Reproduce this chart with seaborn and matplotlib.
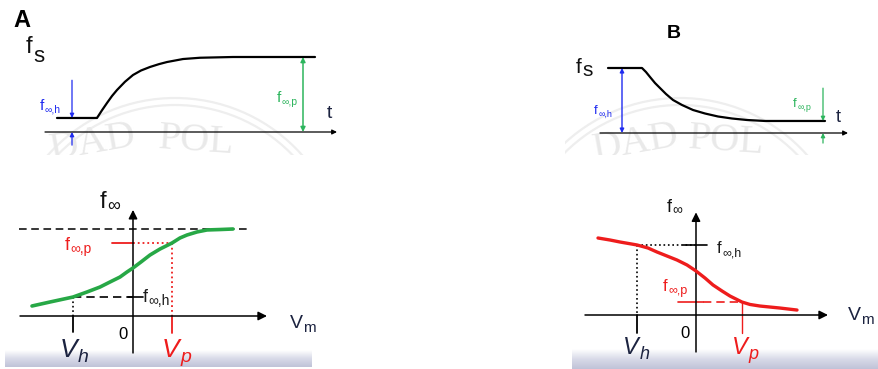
import numpy as np
import matplotlib
matplotlib.use("Agg")
import matplotlib.pyplot as plt
from matplotlib.colors import LinearSegmentedColormap
from matplotlib.patches import Ellipse
import seaborn as sns

sns.set_theme(style="white")
plt.rcParams["font.family"] = ["Liberation Sans", "DejaVu Sans"]

W, H = 879, 369

# ---- data -------------------------------------------------------------
# A (top): f_s after a step, rising from f_inf,h to f_inf,p  (t in ms)
t_rise = [-2.0, 0.0, 0.25, 0.5, 0.75, 1.0, 1.4, 1.8, 2.2, 2.65, 3.1, 3.5,
          4.3, 5.15, 6.8, 10.9]
fs_rise = [0.187, 0.187, 0.29, 0.387, 0.48, 0.56, 0.67, 0.76, 0.82, 0.867,
           0.905, 0.933, 0.973, 0.99, 1.0, 1.0]
fA_h, fA_p = 0.187, 1.0

# B (top): f_s after a step, falling from f_inf,h to f_inf,p
t_fall = [-1.7, 0.0, 0.2, 0.4, 0.65, 0.9, 1.2, 1.55, 2.0, 2.55, 3.15, 3.8,
          4.5, 5.25, 6.15, 9.15]
fs_fall = [1.0, 1.0, 0.938, 0.862, 0.769, 0.692, 0.60, 0.508, 0.431, 0.354,
           0.30, 0.254, 0.223, 0.20, 0.185, 0.185]
fB_h, fB_p = 1.0, 0.185

# A (bottom): steady-state f_inf(Vm), increasing
vA = [-10.1, -8.3, -6.0, -4.6, -3.3, -2.3, -1.3, -0.6, 0.0, 0.8, 1.7, 2.7,
      3.9, 4.7, 5.4, 6.4, 7.4, 8.7, 10.0]
finfA = [0.115, 0.161, 0.218, 0.276, 0.333, 0.391, 0.448, 0.506, 0.552, 0.621,
         0.701, 0.770, 0.839, 0.897, 0.931, 0.966, 0.989, 0.994, 1.0]
VA_h, VA_p = -6.0, 3.9
fA_inf_h, fA_inf_p = 0.218, 0.839

# B (bottom): steady-state f_inf(Vm), decreasing
vB = [-9.8, -8.6, -7.6, -5.9, -4.8, -3.9, -2.9, -1.9, -0.9, 0.0, 0.9, 1.7,
      2.6, 3.4, 4.6, 5.4, 6.4, 8.4, 10.1]
finfB = [0.885, 0.862, 0.839, 0.805, 0.770, 0.724, 0.678, 0.632, 0.575, 0.506,
         0.425, 0.345, 0.276, 0.218, 0.149, 0.121, 0.103, 0.080, 0.057]
VB_h, VB_p = -5.9, 4.6
fB_inf_h, fB_inf_p = 0.805, 0.149

BLUE = "#1f2bf0"
GREEN = "#2db55d"
RED = "#ee1c1c"
NAVY = "#1c2340"

fig = plt.figure(figsize=(W / 100, H / 100), dpi=100)
fig.patch.set_facecolor("white")
renderer = fig.canvas.get_renderer()


def panel(box, origin, unit):
    """Axes placed on a pixel box with a given data origin and pixels per unit."""
    x0, y0, x1, y1 = box
    ox, oy = origin
    ux, uy = unit
    ax = fig.add_axes([x0 / W, 1 - y1 / H, (x1 - x0) / W, (y1 - y0) / H])
    ax.set_xlim((x0 - ox) / ux, (x1 - ox) / ux)
    ax.set_ylim((oy - y1) / uy, (oy - y0) / uy)
    ax.set_axis_off()
    ax.px = lambda px, py: ((px - ox) / ux, (oy - py) / uy)
    ax.units = (ux, uy)
    return ax


def arrow(ax, p0, p1, color, lw=1.0, head=8, both=False):
    ax.annotate("", xy=p1, xytext=p0,
                arrowprops=dict(arrowstyle="<|-|>" if both else "-|>",
                                color=color, lw=lw, mutation_scale=head,
                                shrinkA=0, shrinkB=0))


def label(px, py, s, size, color="black", **kw):
    return fig.text(px / W, 1 - py / H, s, fontsize=size, color=color,
                    va="baseline", ha="left", **kw)


def sublabel(px, py, main, sub, size, color, subsize, drop, gap=0.5, **kw):
    """Main text followed by a lowered, smaller suffix."""
    t = label(px, py, main, size, color, **kw)
    x_end = t.get_window_extent(renderer=renderer).x1
    label(x_end + gap, py + drop, sub, subsize, color, **kw)


def shade(box):
    x0, y0, x1, y1 = box
    sax = fig.add_axes([x0 / W, 1 - y1 / H, (x1 - x0) / W, (y1 - y0) / H], zorder=0)
    cmap = LinearSegmentedColormap.from_list("shade", ["#ffffff", "#d8dae8", "#c0c3d8"])
    grad = np.linspace(0, 1, 64).reshape(-1, 1)
    sax.imshow(grad, aspect="auto", cmap=cmap, extent=(0, 1, 0, 1), origin="upper")
    sax.set_axis_off()


def watermark(ax, cx, cy, words):
    ux, uy = ax.units
    c = ax.px(cx, cy)
    for r in (170, 163):
        ax.add_patch(Ellipse(c, 2 * r / ux, 2 * r / uy, fill=False,
                             ec="#eeeeee", lw=1.6, zorder=0, clip_on=True))
    for (px, py, s, rot) in words:
        x, y = ax.px(px, py)
        ax.text(x, y, s, fontsize=29, color="#e9e9e9", family="Liberation Serif",
                ha="center", va="center", rotation=rot, zorder=0, clip_on=True)


# ---- A, top -------------------------------------------------------------
axA = panel((15, 20, 350, 155), (97, 132), (20, 75))
watermark(axA, 175, 268, [(93, 143, "DAD", 10), (196, 141, "POL", -4)])
arrow(axA, (-2.6, 0), (12.0, 0), "black", lw=0.9, head=7)
sns.lineplot(x=t_rise, y=fs_rise, ax=axA, color="black", lw=1.6, sort=False)
arrow(axA, (-1.25, 0.69), (-1.25, fA_h), BLUE, lw=0.9, head=6)
arrow(axA, (-1.25, -0.175), (-1.25, 0), BLUE, lw=0.9, head=6)
arrow(axA, (10.3, 0), (10.3, fA_p), GREEN, lw=1.1, head=7, both=True)

label(13, 27, "A", 17, weight="bold")
sublabel(26, 53, "f", "s", 17, "#111111", 16, 9, gap=1)
sublabel(40, 110, "f", "∞,h", 11, BLUE, 7.5, 3)
sublabel(277, 102, "f", "∞,p", 11, GREEN, 7.5, 3)
label(327, 118, "t", 14, NAVY)

# ---- B, top -------------------------------------------------------------
axB = panel((565, 20, 875, 155), (642, 133), (20, 65))
watermark(axB, 680, 268, [(636, 143, "DAD", 10), (726, 141, "POL", -4)])
arrow(axB, (-2.1, 0), (10.3, 0), "black", lw=0.9, head=7)
sns.lineplot(x=t_fall, y=fs_fall, ax=axB, color="black", lw=1.6, sort=False)
arrow(axB, (-1.0, 0), (-1.0, fB_h), BLUE, lw=1.0, head=6, both=True)
arrow(axB, (9.05, 0.69), (9.05, fB_p), GREEN, lw=0.9, head=6)
arrow(axB, (9.05, -0.155), (9.05, 0), GREEN, lw=0.9, head=6)

label(667, 38, "B", 14, weight="bold")
sublabel(576, 73, "f", "s", 15, "#111111", 15, 3, gap=1)
sublabel(594, 114, "f", "∞,h", 9.5, BLUE, 6.5, 3)
sublabel(793, 107, "f", "∞,p", 9.5, GREEN, 6.5, 3)
label(836, 122, "t", 13, NAVY)

# ---- A, bottom ----------------------------------------------------------
shade((5, 350, 312, 367))
axC = panel((5, 175, 320, 369), (133, 316), (10, 87))
arrow(axC, (-11.3, 0), (13.4, 0), "black", lw=1.1, head=13)
arrow(axC, (0, -0.425), (0, 1.22), "black", lw=1.1, head=13)
axC.plot([-11.4, 11.5], [1, 1], color="black", lw=1.1, ls=(0, (5, 3)))
# f_inf,p guide lines
axC.plot([-2.1, 0], [fA_inf_p, fA_inf_p], color=RED, lw=1.3)
axC.plot([0, VA_p], [fA_inf_p, fA_inf_p], color=RED, lw=1.3, ls=":")
axC.plot([VA_p, VA_p], [fA_inf_p, 0], color=RED, lw=1.3, ls=":")
axC.plot([VA_p, VA_p], [0, -0.195], color=RED, lw=1.3)
# f_inf,h guide lines
axC.plot([VA_h, VA_h], [fA_inf_h, 0], color="black", lw=1.2, ls=":")
axC.plot([VA_h, 0], [fA_inf_h, fA_inf_h], color="black", lw=1.2, ls=(0, (5, 3)))
axC.plot([-0.5, 1.0], [fA_inf_h, fA_inf_h], color="black", lw=1.2)
axC.plot([VA_h, VA_h], [0, -0.18], color="black", lw=1.3)
sns.lineplot(x=vA, y=finfA, ax=axC, color="#27a846", lw=2.6, sort=False, zorder=3)

sublabel(100, 208, "f", "∞", 17, "#111111", 13, 3)
sublabel(65, 250, "f", "∞,p", 13, RED, 10, 3)
sublabel(143, 302, "f", "∞,h", 13, "#1a1a1a", 10, 3)
label(118, 339, "0", 12)
sublabel(60, 357, "V", "h", 19, NAVY, 14, 5, style="italic")
sublabel(162, 357, "V", "p", 19, RED, 14, 5, style="italic")
sublabel(290, 328, "V", "m", 14, NAVY, 11, 4)

# ---- B, bottom ----------------------------------------------------------
shade((572, 349, 879, 369))
axD = panel((570, 175, 879, 369), (696, 315), (10, 87))
arrow(axD, (-11.1, 0), (13.2, 0), "black", lw=1.1, head=13)
arrow(axD, (0, -0.425), (0, 1.18), "black", lw=1.1, head=13)
# f_inf,h guide lines
axD.plot([VB_h, VB_h], [fB_inf_h, 0], color="black", lw=1.2, ls=":")
axD.plot([VB_h, 0], [fB_inf_h, fB_inf_h], color="black", lw=1.2, ls=":")
axD.plot([-1.3, 1.1], [fB_inf_h, fB_inf_h], color="black", lw=1.2)
axD.plot([VB_h, VB_h], [0, -0.207], color="black", lw=1.3)
# f_inf,p guide lines
axD.plot([-1.8, 0.7], [fB_inf_p, fB_inf_p], color=RED, lw=1.2)
axD.plot([0.7, VB_p], [fB_inf_p, fB_inf_p], color=RED, lw=1.2, ls=(0, (5, 3)))
axD.plot([VB_p, VB_p], [fB_inf_p, -0.207], color=RED, lw=1.0)
sns.lineplot(x=vB, y=finfB, ax=axD, color=RED, lw=2.4, sort=False, zorder=3)

sublabel(667, 212, "f", "∞", 13, "#111111", 10, 2)
sublabel(717, 253, "f", "∞,h", 12, "#1a1a1a", 9, 3)
sublabel(663, 291, "f", "∞,p", 12, RED, 9, 3)
label(680, 338, "0", 12)
sublabel(623, 354, "V", "h", 17, NAVY, 13, 5, style="italic")
sublabel(732, 354, "V", "p", 17, RED, 13, 5, style="italic")
sublabel(848, 320, "V", "m", 14, NAVY, 11, 4)

fig.savefig("out.png", dpi=100, facecolor="white")
